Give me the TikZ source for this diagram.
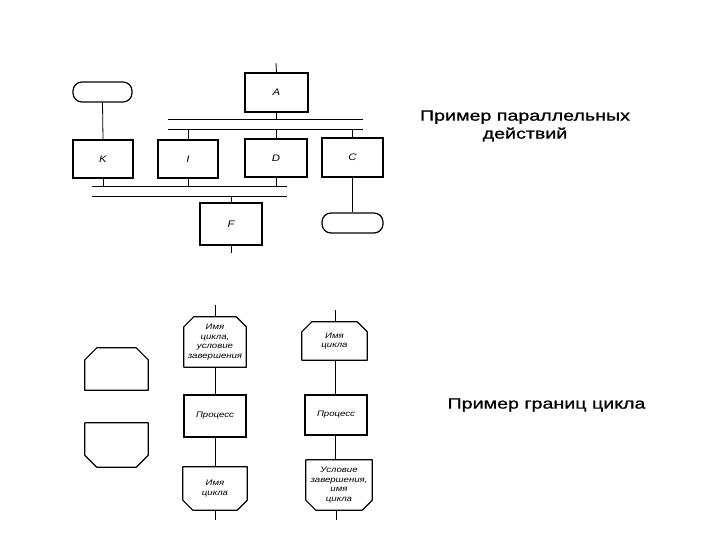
\documentclass[tikz,border=0pt]{standalone}
\usepackage{fontspec}
\setmainfont{Liberation Sans}
\newfontfamily\capfont[FakeStretch=1.31,FakeBold=1]{Liberation Sans}
\newfontfamily\boxfont[FakeStretch=1.2]{Liberation Sans}
\usetikzlibrary{calc}
\begin{document}
\begin{tikzpicture}[x=1pt,y=-1pt,
  blk/.style={draw,line width=1.2pt,inner sep=0pt,font=\boxfont\fontsize{8}{9.5}\selectfont\itshape,align=center},
  term/.style={blk,rounded corners=9pt},
  lettered/.style={blk,font=\boxfont\fontsize{9.5}{11}\selectfont\itshape},
  ghost/.style={inner sep=0pt,font=\boxfont\fontsize{8}{9.5}\selectfont\itshape,align=center},
  conn/.style={line width=0.8pt},
  bar/.style={line width=1pt},
  shapeline/.style={line width=1.2pt,line join=round},
  caption/.style={font=\capfont\fontsize{15}{18}\selectfont,align=center}]
\useasboundingbox (0,0) rectangle (720,540);
\fill[white] (0,0) rectangle (720,540);

% ---------- parallel actions ----------
\node[term,minimum width=59pt,minimum height=20pt] (T1) at (102.5,92) {};
\node[lettered,minimum width=63pt,minimum height=39pt] (A) at (276.5,92.5) {A};
\node[lettered,minimum width=60pt,minimum height=38pt] (K) at (103,159) {K};
\node[lettered,minimum width=60pt,minimum height=38pt] (I) at (188,159) {I};
\node[lettered,minimum width=62pt,minimum height=38pt] (D) at (276,158) {D};
\node[lettered,minimum width=61pt,minimum height=39pt] (C) at (352.5,157.5) {C};
\node[lettered,minimum width=62pt,minimum height=42pt] (F) at (231,224) {F};
\node[term,minimum width=61pt,minimum height=20pt] (T2) at (352.5,223) {};

\coordinate (atop) at (276,63);
\coordinate (fbot) at (231,253);
\coordinate (b1w) at (168,120); \coordinate (b1e) at (363,120);
\coordinate (b2w) at (168,130); \coordinate (b2e) at (363,130);
\coordinate (b3w) at (92,187);  \coordinate (b3e) at (287,187);
\coordinate (b4w) at (92,197);  \coordinate (b4e) at (287,197);

\draw[bar] (b1w) -- (b1e);
\draw[bar] (b2w) -- (b2e);
\draw[bar] (b3w) -- (b3e);
\draw[bar] (b4w) -- (b4e);

\draw[conn] (atop) -- (A.north);
\draw[conn] (A.south) -- (A.south |- b1w);
\draw[conn] (I.north |- b2w) -- (I.north);
\draw[conn] (D.north |- b2w) -- (D.north);
\draw[conn] (C.north |- b2w) -- (C.north);
\draw[conn] (T1.south) -- (K.north);
\draw[conn] (K.south) -- (K.south |- b3w);
\draw[conn] (I.south) -- (I.south |- b3w);
\draw[conn] (D.south) -- (D.south |- b3w);
\draw[conn] (F.north |- b4w) -- (F.north);
\draw[conn] (F.south) -- (fbot);
\draw[conn] (C.south) -- (T2.north);

\node[caption] (cap1) at (525,126) {Пример параллельных\\действий};

% ---------- loop boundaries ----------
\newcommand\ChamTop[2]{\draw[shapeline] (#1.south west) -- ($(#1.north west)+(0,#2)$) -- ($(#1.north west)+(#2,0)$) -- ($(#1.north east)+(-#2,0)$) -- ($(#1.north east)+(0,#2)$) -- (#1.south east) -- cycle;}
\newcommand\ChamBot[2]{\draw[shapeline] (#1.north west) -- ($(#1.south west)+(0,-#2)$) -- ($(#1.south west)+(#2,0)$) -- ($(#1.south east)+(-#2,0)$) -- ($(#1.south east)+(0,-#2)$) -- (#1.north east) -- cycle;}

\node[ghost,minimum width=63pt,minimum height=42pt] (LS) at (116.5,369) {};
\node[ghost,minimum width=63pt,minimum height=44pt] (LE) at (116.5,445) {};
\ChamTop{LS}{12}
\ChamBot{LE}{12}

\node[ghost,minimum width=62pt,minimum height=50pt] (M1) at (215,342) {Имя\\цикла,\\условие\\завершения};
\node[blk,minimum width=62pt,minimum height=42pt] (M2) at (215,416) {Процесс};
\node[ghost,minimum width=64pt,minimum height=43pt] (M3) at (215,488.5) {Имя\\цикла};
\ChamTop{M1}{10}
\ChamBot{M3}{10}
\coordinate (m1top) at (215,305);
\coordinate (m3bot) at (215,520);
\draw[conn] (m1top) -- (M1.north);
\draw[conn] (M1.south) -- (M2.north);
\draw[conn] (M2.south) -- (M3.north);
\draw[conn] (M3.south) -- (m3bot);

\node[ghost,minimum width=65pt,minimum height=38pt] (R1) at (334.5,341) {Имя\\цикла};
\node[blk,minimum width=62pt,minimum height=40pt] (R2) at (336,415) {Процесс};
\node[ghost,minimum width=66pt,minimum height=50pt] (R3) at (339,485) {Условие\\завершения,\\имя\\цикла};
\ChamTop{R1}{10}
\ChamBot{R3}{10}
\coordinate (r1top) at (335,310);
\coordinate (r3bot) at (336,520);
\draw[conn] (r1top) -- (R1.north -| r1top);
\draw[conn] (R1.south -| r1top) -- (R2.north -| r1top);
\draw[conn] (R2.south -| r1top) -- (R3.north -| r1top);
\draw[conn] (R3.south -| r3bot) -- (r3bot);

\node[caption] (cap2) at (546.5,405) {Пример границ цикла};
\end{tikzpicture}
\end{document}
